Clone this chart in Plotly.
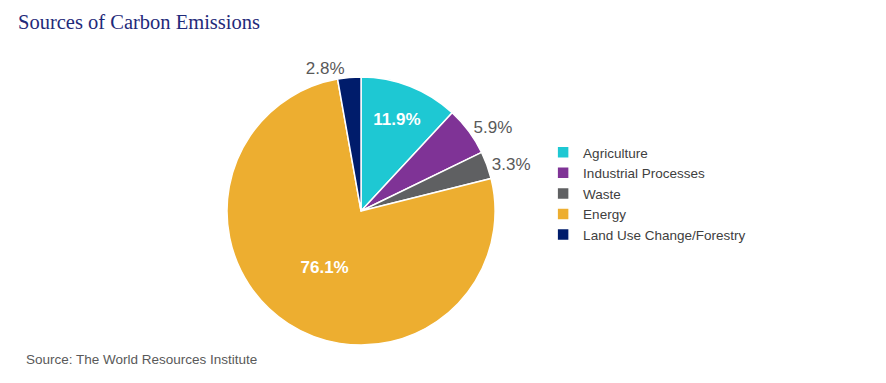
import plotly.graph_objects as go

categories = ["Agriculture", "Industrial Processes", "Waste", "Energy", "Land Use Change/Forestry"]
values = [11.9, 5.9, 3.3, 76.1, 2.8]
colors = ["#1EC8D3", "#7F3396", "#5F6062", "#EDAE30", "#001C6B"]
text_positions = ["inside", "outside", "outside", "inside", "outside"]

fig = go.Figure(go.Pie(
    labels=categories,
    values=values,
    sort=False,
    direction="clockwise",
    rotation=0,
    marker=dict(colors=colors, line=dict(color="#FFFFFF", width=1.5)),
    texttemplate="%{value:.1f}%",
    textposition=text_positions,
    insidetextfont=dict(family="Liberation Sans", size=17, color="#FFFFFF", weight="bold"),
    outsidetextfont=dict(family="Liberation Sans", size=17, color="#595959"),
    insidetextorientation="horizontal",
    domain=dict(x=[0.256, 0.559], y=[0.099, 0.799]),
    hoverinfo="label+percent",
))

fig.update_layout(
    width=886, height=383,
    margin=dict(l=0, r=0, t=0, b=0),
    paper_bgcolor="white",
    plot_bgcolor="white",
    title=dict(text="Sources of Carbon Emissions", x=18/886, xanchor="left", y=1 - 22/383, yanchor="middle",
               font=dict(family="Liberation Serif", size=20.5, color="#1F2A7A")),
    legend=dict(x=0.613, y=(383 - 137) / 383, xanchor="left", yanchor="top",
                font=dict(family="Liberation Sans", size=13.5, color="#404040"),
                itemwidth=30, tracegroupgap=0),
    annotations=[dict(text="Source: The World Resources Institute", xref="paper", yref="paper",
                      x=24/886, y=1 - 359/383, xanchor="left", yanchor="middle", showarrow=False,
                      font=dict(family="Liberation Sans", size=13.5, color="#595959"))],
)

fig.write_html("out.html", config={"displayModeBar": False},
               post_script="document.body.style.margin='0px';")
